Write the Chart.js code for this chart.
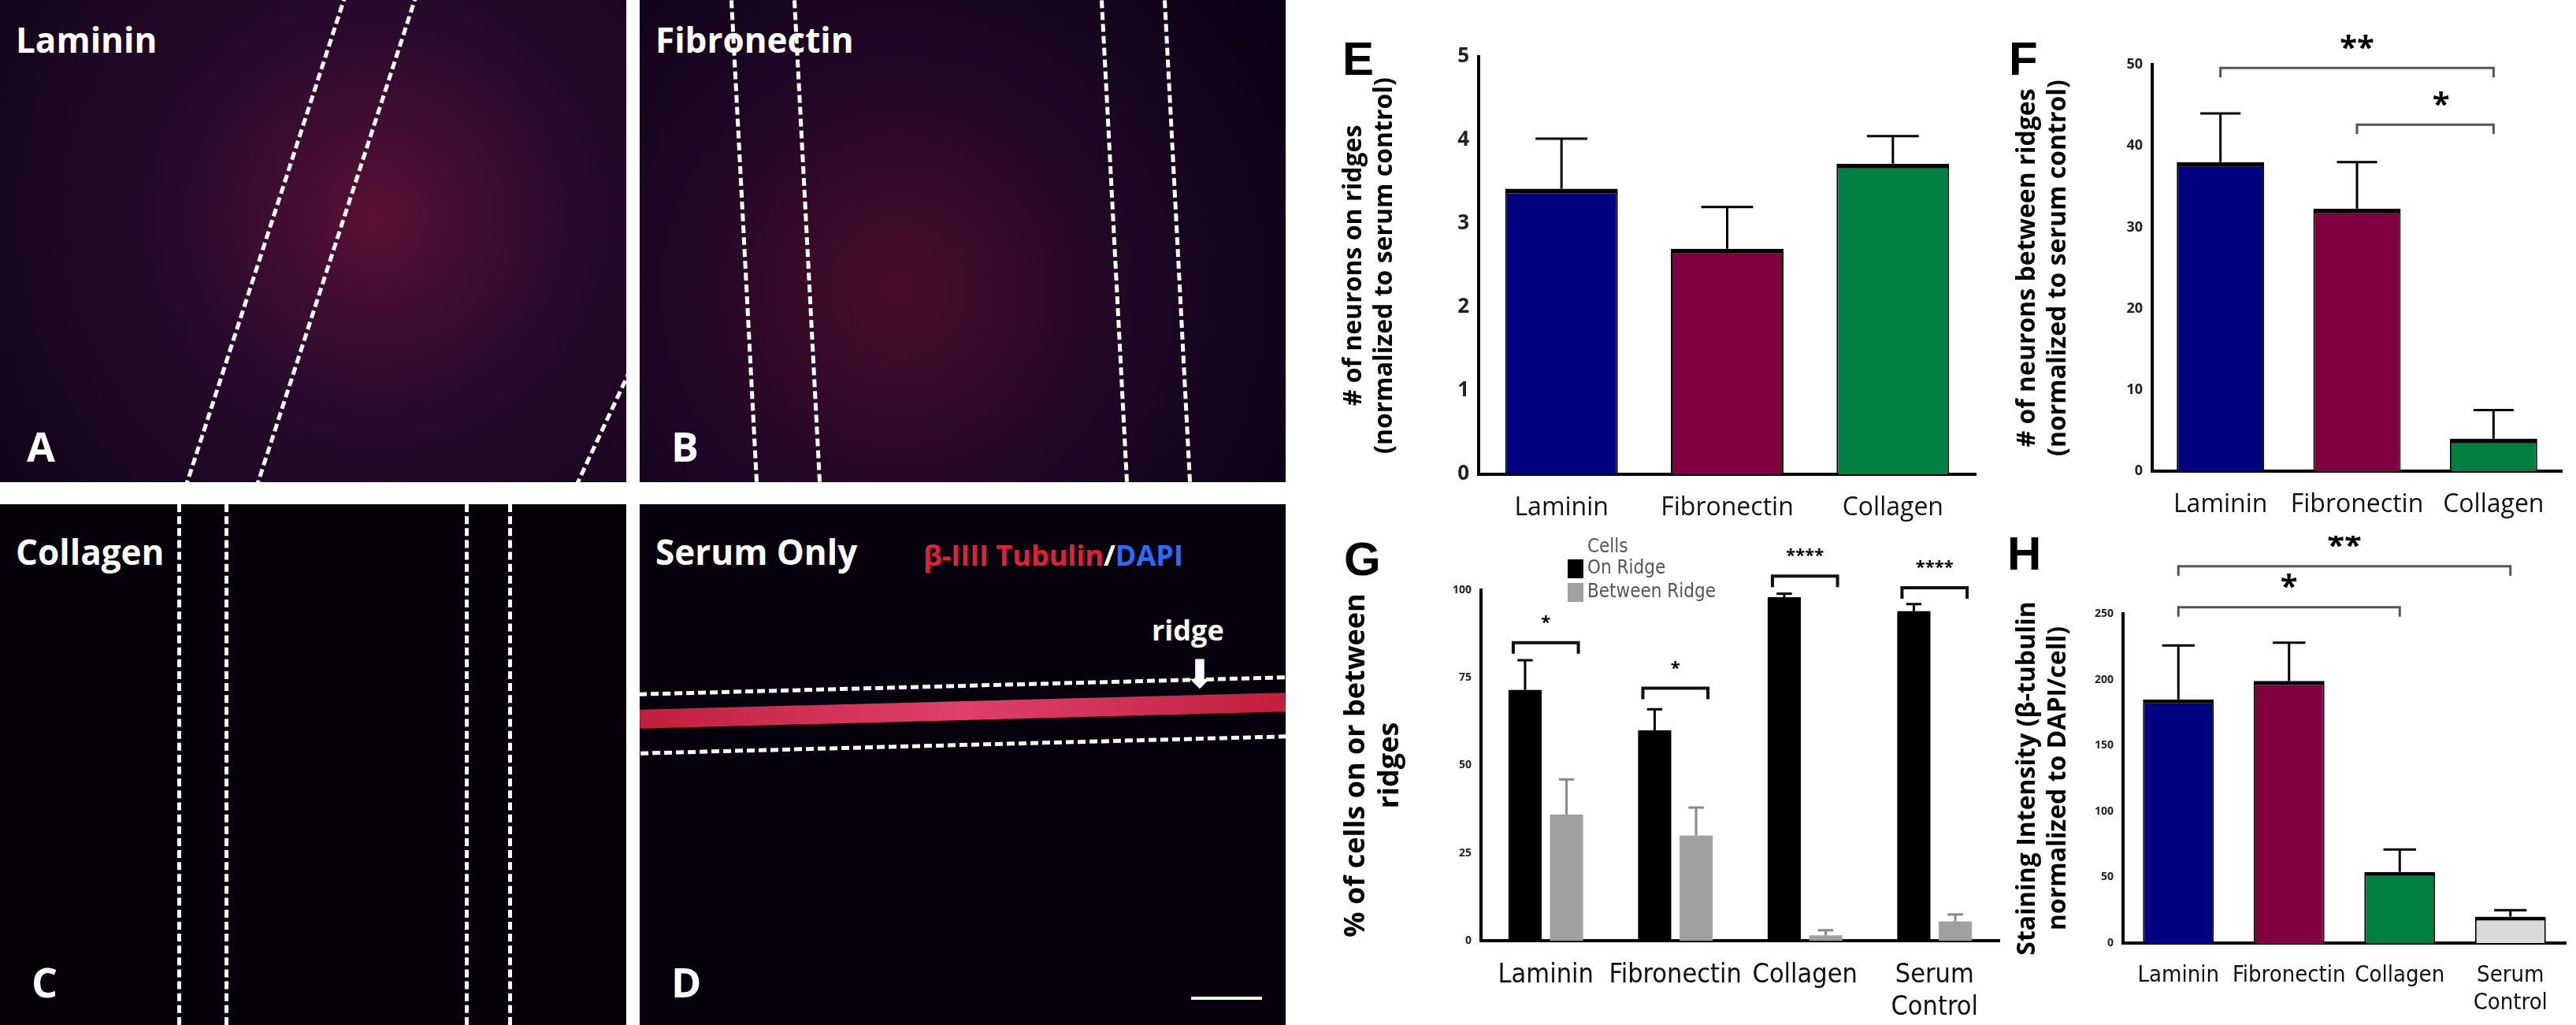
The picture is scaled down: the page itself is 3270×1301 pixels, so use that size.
<!DOCTYPE html>
<html>
<head>
<meta charset="utf-8">
<script src="https://cdn.jsdelivr.net/npm/chart.js@4.4.1/dist/chart.umd.min.js"></script>
<style>
  body { margin:0; background:#fff; width:3270px; height:1301px; position:relative; overflow:hidden; font-family:"Open Sans", sans-serif; }
  .photo { position:absolute; background:#0a0010; overflow:hidden; }
  .photo .lbl { position:absolute; color:#fff; font-weight:bold; font-size:44px; }
  .dash { position:absolute; border-left:5px dashed #fff; }
  .box { position:absolute; }
  .letter { position:absolute; font-weight:bold; font-size:60px; color:#000; font-family:"Liberation Sans", Arial, sans-serif; }
</style>
</head>
<body>

<!-- microscope panels (approximated) -->
<div class="photo" style="left:0;top:0;width:795px;height:612px;background:radial-gradient(circle at 60% 45%, #5a1035 0%, #2a0a2e 40%, #100418 100%);">
  <div class="dash" style="left:330px;top:-40px;height:720px;transform:rotate(18deg)"></div>
  <div class="dash" style="left:420px;top:-40px;height:720px;transform:rotate(18deg)"></div>
  <div class="dash" style="left:760px;top:400px;height:300px;transform:rotate(25deg)"></div>
  <div class="lbl" style="left:20px;top:20px">Laminin</div>
  <div class="lbl" style="left:34px;top:530px;font-size:52px">A</div>
</div>
<div class="photo" style="left:812px;top:0;width:820px;height:612px;background:radial-gradient(circle at 40% 60%, #4a0c2c 0%, #1d0625 50%, #0a0214 100%);">
  <div class="dash" style="left:130px;top:0;height:612px;transform:rotate(-3deg)"></div>
  <div class="dash" style="left:210px;top:0;height:612px;transform:rotate(-3deg)"></div>
  <div class="dash" style="left:600px;top:0;height:612px;transform:rotate(-3deg)"></div>
  <div class="dash" style="left:680px;top:0;height:612px;transform:rotate(-3deg)"></div>
  <div class="lbl" style="left:20px;top:20px">Fibronectin</div>
  <div class="lbl" style="left:40px;top:530px;font-size:52px">B</div>
</div>
<div class="photo" style="left:0;top:640px;width:795px;height:661px;background:#050008;">
  <div class="dash" style="left:225px;top:0;height:661px"></div>
  <div class="dash" style="left:285px;top:0;height:661px"></div>
  <div class="dash" style="left:590px;top:0;height:661px"></div>
  <div class="dash" style="left:645px;top:0;height:661px"></div>
  <div class="lbl" style="left:20px;top:30px">Collagen</div>
  <div class="lbl" style="left:40px;top:570px;font-size:52px">C</div>
</div>
<div class="photo" style="left:812px;top:640px;width:820px;height:661px;background:#06000c;">
  <div style="position:absolute;left:0;top:228px;width:820px;height:70px;border-top:5px dashed #fff;border-bottom:5px dashed #fff;transform:rotate(-1.5deg)"></div>
  <div style="position:absolute;left:0;top:250px;width:820px;height:24px;background:linear-gradient(90deg,#c0203c,#e0406a,#c0203c);transform:rotate(-1.5deg)"></div>
  <div class="lbl" style="left:20px;top:30px">Serum Only</div>
  <div class="lbl" style="left:360px;top:40px;font-size:36px"><span style="color:#e3203a">β-IIII Tubulin</span>/<span style="color:#2a6cff">DAPI</span></div>
  <div class="lbl" style="left:650px;top:135px;font-size:36px">ridge</div>
  <div style="position:absolute;left:690px;top:180px;font-size:50px;color:#fff">⬇</div>
  <div class="lbl" style="left:40px;top:570px;font-size:52px">D</div>
  <div style="position:absolute;left:700px;top:625px;width:90px;border-top:4px solid #fff"></div>
</div>

<div class="letter" style="left:1704px;top:40px">E</div>
<div class="letter" style="left:2550px;top:40px">F</div>
<div class="letter" style="left:1706px;top:675px">G</div>
<div class="letter" style="left:2548px;top:668px">H</div>

<div class="box" style="left:1700px;top:30px;width:830px;height:640px"><canvas id="chartE"></canvas></div>
<div class="box" style="left:2555px;top:30px;width:712px;height:640px"><canvas id="chartF"></canvas></div>
<div class="box" style="left:1700px;top:680px;width:850px;height:620px"><canvas id="chartG"></canvas></div>
<div class="box" style="left:2555px;top:680px;width:712px;height:620px"><canvas id="chartH"></canvas></div>

<script>
// data
const groupsEF = ["Laminin", "Fibronectin", "Collagen"];
const groupsGH = [["Laminin"], ["Fibronectin"], ["Collagen"], ["Serum", "Control"]];

const onRidgeE = [3.42, 2.70, 3.72];
const onRidgeErrE = [0.60, 0.50, 0.33];

const betweenF = [38.0, 32.3, 4.0];
const betweenErrF = [6.0, 5.7, 3.5];

const onRidgeG = [71.5, 60.0, 98.0, 94.0];
const onRidgeErrG = [8.5, 6.0, 1.0, 2.0];
const betweenG = [36.0, 30.0, 1.5, 5.5];
const betweenErrG = [10.0, 8.0, 1.5, 2.0];

const stainingH = [185, 199, 54, 20];
const stainingErrH = [41, 29, 17, 5];

const barColors = ["#000080", "#800040", "#008040", "#d9d9d9"];

// significance: [from index, to index, value, label]
const sigF = [[0, 2, 49.6, "**"], [1, 2, 42.6, "*"]];
const sigH = [[0, 3, 286, "**"], [0, 2, 255, "*"]];
// G: bracket per group between its two bars
const sigG = [[0, 85, "*"], [1, 72, "*"], [2, 104, "****"], [3, 100.7, "****"]];

const fontStack = "'Open Sans', 'DejaVu Sans', sans-serif";
const narrow = "'DejaVu Sans Condensed', 'Liberation Sans Narrow', sans-serif";

// fixes chart area inside its box
function fixedLayout(yWidth, xHeight) {
  return {
    y: { afterFit: (s) => { s.width = yWidth; } },
    x: { afterFit: (s) => { s.height = xHeight; } }
  };
}

const errorBars = {
  id: "errorBars",
  afterDatasetsDraw(chart) {
    const ctx = chart.ctx;
    const y = chart.scales.y;
    chart.data.datasets.forEach((ds, di) => {
      if (!ds.errors) return;
      const meta = chart.getDatasetMeta(di);
      meta.data.forEach((bar, i) => {
        const top = y.getPixelForValue(ds.data[i] + ds.errors[i]);
        const base = y.getPixelForValue(ds.data[i]);
        const half = bar.width * 0.23;
        ctx.save();
        ctx.strokeStyle = ds.errColor || "#000";
        ctx.lineWidth = 3;
        ctx.beginPath();
        ctx.moveTo(bar.x, base); ctx.lineTo(bar.x, top);
        ctx.moveTo(bar.x - half, top); ctx.lineTo(bar.x + half, top);
        ctx.stroke();
        ctx.restore();
      });
    });
  }
};

const sigBrackets = {
  id: "sigBrackets",
  afterDraw(chart, args, opts) {
    const ctx = chart.ctx;
    const x = chart.scales.x, y = chart.scales.y;
    ctx.save();
    ctx.fillStyle = "#000";
    ctx.textAlign = "center";
    ctx.textBaseline = "bottom";
    if (opts.span) {
      opts.span.forEach(([a, b, v, lbl]) => {
        const x1 = x.getPixelForValue(a), x2 = x.getPixelForValue(b), py = y.getPixelForValue(v);
        ctx.strokeStyle = "#555";
        ctx.lineWidth = 3;
        ctx.beginPath();
        ctx.moveTo(x1, py + 12); ctx.lineTo(x1, py); ctx.lineTo(x2, py); ctx.lineTo(x2, py + 12);
        ctx.stroke();
        ctx.font = "bold 40px " + fontStack;
        ctx.fillText(lbl, (x1 + x2) / 2 + (b - a === 1 ? 20 : 0), py - 4);
      });
    }
    if (opts.pair) {
      const m0 = chart.getDatasetMeta(0), m1 = chart.getDatasetMeta(1);
      opts.pair.forEach(([i, v, lbl]) => {
        const x1 = m0.data[i].x, x2 = m1.data[i].x, py = y.getPixelForValue(v);
        ctx.strokeStyle = "#111";
        ctx.lineWidth = 4;
        ctx.beginPath();
        ctx.moveTo(x1 - 15, py + 14); ctx.lineTo(x1 - 15, py); ctx.lineTo(x2 + 15, py); ctx.lineTo(x2 + 15, py + 14);
        ctx.stroke();
        ctx.font = "bold 22px " + fontStack;
        ctx.fillText(lbl, (x1 + x2) / 2, py - 14);
      });
    }
    ctx.restore();
  }
};

const legendG = {
  id: "legendG",
  afterDraw(chart) {
    const ctx = chart.ctx;
    ctx.save();
    ctx.font = "24px " + narrow;
    ctx.fillStyle = "#555";
    ctx.textBaseline = "middle";
    ctx.fillText("Cells", 315, 15);
    chart.data.datasets.forEach((ds, i) => {
      const yy = 42 + i * 30;
      ctx.fillStyle = ds.backgroundColor;
      ctx.fillRect(290, yy - 12, 20, 24);
      ctx.fillStyle = "#555";
      ctx.fillText(ds.label, 315, yy);
    });
    ctx.restore();
  }
};

function baseOptions(cfg) {
  const fit = fixedLayout(cfg.yWidth, cfg.xHeight);
  return {
    responsive: true,
    maintainAspectRatio: false,
    animation: false,
    layout: { padding: { top: cfg.top, right: cfg.right, left: 0, bottom: 0 } },
    plugins: { legend: { display: false }, tooltip: { enabled: false }, sigBrackets: cfg.sig || {} },
    scales: {
      x: {
        afterFit: fit.x.afterFit,
        border: { color: "#000", width: 4 },
        grid: { display: false, offset: true, drawTicks: true, tickLength: 14, tickWidth: 3, tickColor: "#000" },
        ticks: { color: "#111", font: { size: cfg.xTick, family: cfg.xFont || fontStack }, padding: 10,
          maxRotation: 0, autoSkip: false }
      },
      y: {
        afterFit: fit.y.afterFit,
        border: { color: "#000", width: 4 },
        grid: { display: false, drawTicks: true, tickLength: 8, tickWidth: 3, tickColor: "#000" },
        min: 0, max: cfg.max,
        ticks: { stepSize: cfg.step, color: "#222", font: { size: cfg.yTick, family: fontStack, weight: "bold" }, padding: 4 },
        title: { display: true, text: cfg.yTitle, color: "#000", font: { size: cfg.titleSize, weight: "bold", family: fontStack }, padding: 0 }
      }
    }
  };
}

new Chart(document.getElementById("chartE"), {
  type: "bar",
  data: { labels: groupsEF, datasets: [{
    data: onRidgeE, errors: onRidgeErrE, backgroundColor: barColors.slice(0, 3),
    borderColor: "#000", borderWidth: { top: 6, left: 2, right: 2, bottom: 0 }, borderSkipped: false,
    barPercentage: 0.68, categoryPercentage: 1 }] },
  options: baseOptions({ yWidth: 177, xHeight: 68, top: 42, right: 22, max: 5, step: 1, yTick: 26, xTick: 32,
    yTitle: ["# of neurons on ridges", "(normalized to serum control)"], titleSize: 32 }),
  plugins: [errorBars]
});

new Chart(document.getElementById("chartF"), {
  type: "bar",
  data: { labels: groupsEF, datasets: [{
    data: betweenF, errors: betweenErrF, backgroundColor: barColors.slice(0, 3),
    borderColor: "#000", borderWidth: { top: 6, left: 2, right: 2, bottom: 0 }, borderSkipped: false,
    barPercentage: 0.64, categoryPercentage: 1 }] },
  options: baseOptions({ yWidth: 177, xHeight: 72, top: 52, right: 15, max: 50, step: 10, yTick: 18, xTick: 32,
    yTitle: ["# of neurons between ridges", "(normalized to serum control)"], titleSize: 32,
    sig: { span: sigF } }),
  plugins: [errorBars, sigBrackets]
});

new Chart(document.getElementById("chartG"), {
  type: "bar",
  data: { labels: groupsGH, datasets: [
    { label: "On Ridge", data: onRidgeG, errors: onRidgeErrG, backgroundColor: "#000000", errColor: "#000",
      barPercentage: 0.8, categoryPercentage: 0.64 },
    { label: "Between Ridge", data: betweenG, errors: betweenErrG, backgroundColor: "#a0a0a0", errColor: "#888",
      barPercentage: 0.8, categoryPercentage: 0.64 }
  ] },
  options: baseOptions({ yWidth: 180, xHeight: 106, top: 69, right: 12, max: 100, step: 25, yTick: 14, xTick: 34,
    xFont: narrow, yTitle: ["% of cells on or between", "ridges"], titleSize: 36, sig: { pair: sigG } }),
  plugins: [errorBars, sigBrackets, legendG]
});

new Chart(document.getElementById("chartH"), {
  type: "bar",
  data: { labels: groupsGH, datasets: [{
    data: stainingH, errors: stainingErrH, backgroundColor: barColors,
    borderColor: "#000", borderWidth: { top: 5, left: 2, right: 2, bottom: 0 }, borderSkipped: false,
    barPercentage: 0.64, categoryPercentage: 1 }] },
  options: baseOptions({ yWidth: 140, xHeight: 103, top: 99, right: 10, max: 250, step: 50, yTick: 14, xTick: 29,
    xFont: narrow, yTitle: ["Staining Intensity (β-tubulin", "normalized to DAPI/cell)"], titleSize: 32,
    sig: { span: sigH } }),
  plugins: [errorBars, sigBrackets]
});
</script>
</body>
</html>
